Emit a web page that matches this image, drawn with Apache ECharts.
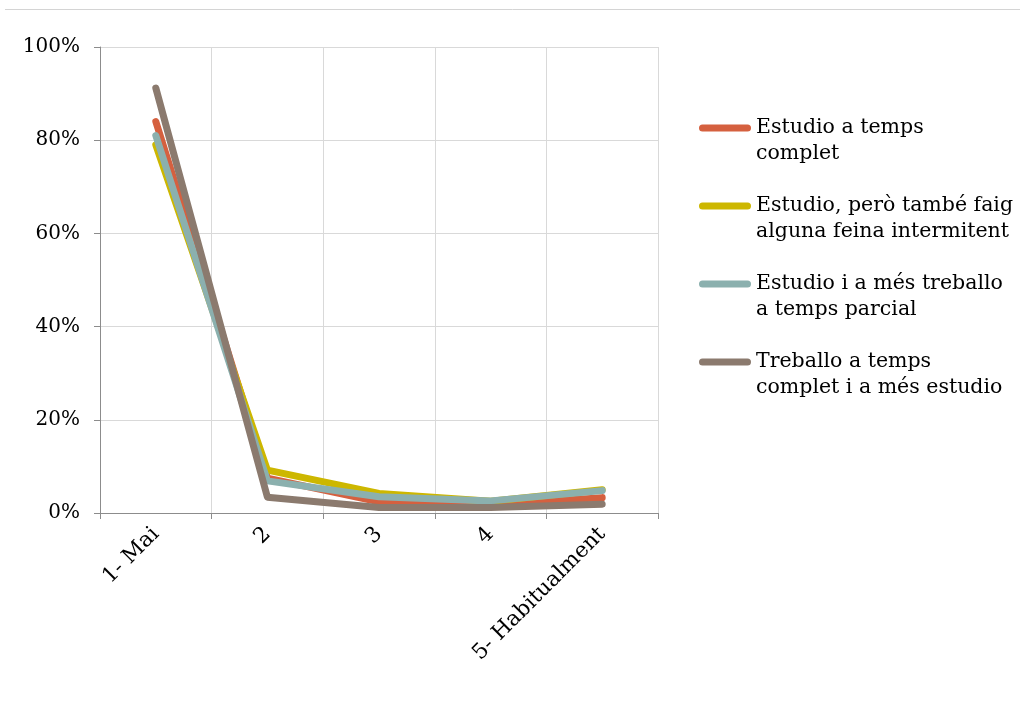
<!DOCTYPE html>
<html><head><meta charset="utf-8">
<script src="https://cdn.jsdelivr.net/npm/echarts@6/dist/echarts.min.js"></script>
<style>html,body{margin:0;padding:0;background:#fff}#c{width:1020px;height:706px}</style>
</head><body><div id="c"></div>
<script>
const categories = ['1- Mai', '2', '3', '4', '5- Habitualment'];
const yTicks = [0, 20, 40, 60, 80, 100];
const seriesNames = [
  'Estudio a temps\ncomplet',
  'Estudio, però també faig\nalguna feina intermitent',
  'Estudio i a més treballo\na temps parcial',
  'Treballo a temps\ncomplet i a més estudio'
];
const fullTime = [84, 7.5, 2.4, 1.7, 3.3];
const studyIntermittent = [79, 9.2, 4.2, 2.5, 5.0];
const studyPartTime = [81, 6.9, 3.5, 2.6, 4.8];
const workFullTime = [91.2, 3.4, 1.2, 1.2, 1.9];
const colors = ['#D5603F', '#CDB700', '#8BB0AE', '#8B7A6E'];
const values = [fullTime, studyIntermittent, studyPartTime, workFullTime];

const chart = echarts.init(document.getElementById('c'), null, {renderer: 'canvas'});
const font = 'DejaVu Serif';
chart.setOption({
  animation: false,
  backgroundColor: '#fff',
  graphic: [{type: 'line', shape: {x1: 5, y1: 9.5, x2: 1020, y2: 9.5}, style: {stroke: '#d4d4d4', lineWidth: 1}}],
  grid: {left: 100, right: 362, top: 47, bottom: 193, containLabel: false},
  xAxis: {
    type: 'category', data: categories, boundaryGap: true,
    axisLine: {lineStyle: {color: '#8c8c8c', width: 1}},
    axisTick: {show: true, length: 6, lineStyle: {color: '#8c8c8c'}},
    axisLabel: {rotate: 45, margin: 18, color: '#000', fontFamily: font, fontSize: 21.5},
    splitLine: {show: true, lineStyle: {color: '#d9d9d9'}}
  },
  yAxis: {
    type: 'value', min: 0, max: 100, interval: 20,
    axisLine: {show: true, lineStyle: {color: '#8c8c8c'}},
    axisTick: {show: true, length: 6, lineStyle: {color: '#8c8c8c'}},
    axisLabel: {margin: 20, color: '#000', fontFamily: font, fontSize: 20, formatter: v => yTicks.includes(v) ? v + '%' : ''},
    splitLine: {show: true, lineStyle: {color: '#d9d9d9'}}
  },
  legend: {
    orient: 'vertical', left: 699, top: 89, itemGap: 0, padding: 0,
    itemWidth: 52, itemHeight: 7,
    icon: 'path://M3.5,0 H48.5 A3.5,3.5 0 0 1 48.5,7 H3.5 A3.5,3.5 0 0 1 3.5,0 Z',
    formatter: n => '\n' + n,
    textStyle: {fontFamily: font, fontSize: 20.5, color: '#000', lineHeight: 26},
    data: seriesNames
  },
  series: values.map((v, i) => ({
    name: seriesNames[i], type: 'line', data: v, symbol: 'none', showSymbol: false,
    itemStyle: {color: colors[i]},
    lineStyle: {color: colors[i], width: 7, cap: 'round', join: 'round'},
    z: 2 + i
  }))
});
</script></body></html>
